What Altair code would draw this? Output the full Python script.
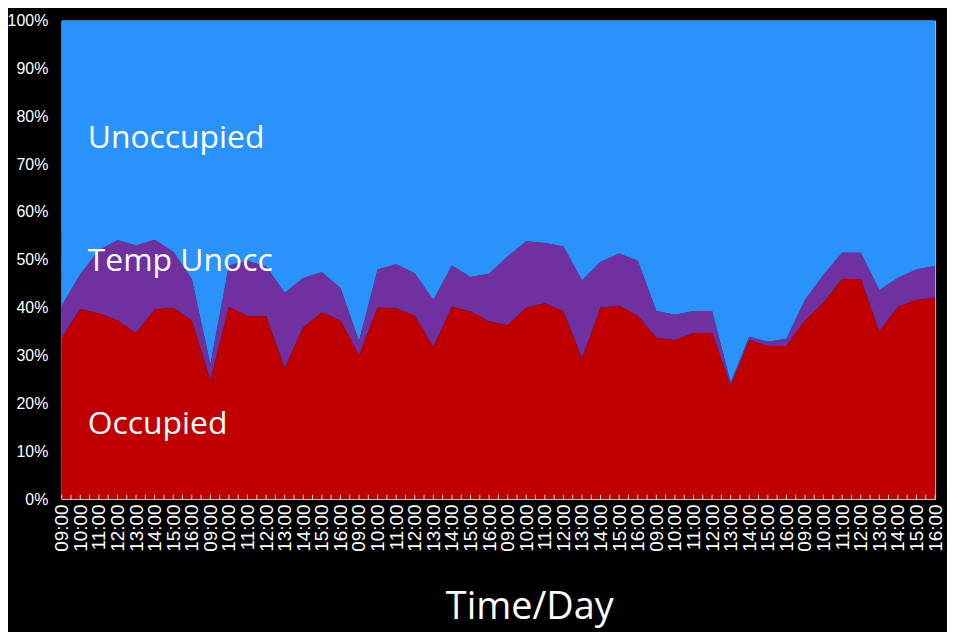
import altair as alt
import pandas as pd

# ---- data (percent of total) ----
day_hours = ["09:00", "10:00", "11:00", "12:00", "13:00", "14:00", "15:00", "16:00"]
tick_labels = day_hours * 6  # six days, 48 time points

occupied = [33.7, 39.7, 38.8, 37.3, 34.7, 39.6, 40.0, 37.3, 24.8, 40.2,
            38.2, 38.2, 27.4, 35.9, 39.0, 37.3, 30.0, 40.0, 39.8, 38.3,
            31.8, 40.2, 39.2, 37.1, 36.3, 40.0, 40.9, 39.2, 29.3, 40.0,
            40.4, 38.3, 33.7, 33.2, 34.7, 34.7, 23.6, 33.2, 32.0, 32.0,
            37.3, 41.1, 46.0, 46.0, 35.0, 40.2, 41.6, 42.1]

temp_unocc = [6.7, 7.3, 13.2, 16.8, 18.3, 14.6, 11.7, 8.7, 3.3, 8.6,
              11.6, 10.4, 15.7, 10.3, 8.4, 6.8, 3.0, 8.0, 9.3, 8.9,
              9.8, 8.6, 7.2, 10.0, 14.4, 13.9, 12.6, 13.6, 16.4, 9.6,
              10.9, 11.5, 5.6, 5.3, 4.6, 4.6, 0.7, 0.7, 0.9, 1.5,
              4.3, 5.8, 5.5, 5.5, 8.7, 6.0, 6.4, 6.6]

unoccupied = [59.6, 53.0, 48.0, 45.9, 47.0, 45.8, 48.3, 54.0, 71.9, 51.2,
              50.2, 51.4, 56.9, 53.8, 52.6, 55.9, 67.0, 52.0, 50.9, 52.8,
              58.4, 51.2, 53.6, 52.9, 49.3, 46.1, 46.5, 47.2, 54.3, 50.4,
              48.7, 50.2, 60.7, 61.5, 60.7, 60.7, 75.7, 66.1, 67.1, 66.5,
              58.4, 53.1, 48.5, 48.5, 56.3, 53.8, 52.0, 51.3]

series_names = ["Occupied", "Temp Unocc", "Unoccupied"]
series_colors = ["#C00000", "#7030A0", "#2A93FB"]

label_text = ["Unoccupied", "Temp Unocc", "Occupied"]
label_x = [1.4, 1.4, 1.4]
label_y = [73.4, 47.6, 13.6]

# ---- build tables ----
rows = []
for k, vals in enumerate([occupied, temp_unocc, unoccupied]):
    for i, v in enumerate(vals):
        rows.append({"idx": i, "value": v, "series": series_names[k], "ord": k})
df = pd.DataFrame(rows)

n = len(tick_labels)
df_ticks = pd.DataFrame({"t": [i / 2 for i in range(2 * (n - 1) + 1)]})
df_lab = pd.DataFrame({"x": label_x, "y": label_y, "text": label_text})

label_expr = "[" + ",".join("'" + s + "'" for s in tick_labels) + "][datum.value]"

x_scale = alt.Scale(domain=[0, n - 1], nice=False, zero=False)
y_scale = alt.Scale(domain=[0, 100], nice=False)

x_axis = alt.Axis(values=list(range(n)), labelExpr=label_expr,
                  labelAngle=-90, labelAlign="right", labelBaseline="middle",
                  labelPadding=5, labelFontSize=19, ticks=False, grid=False,
                  title="Time/Day", titleFont="Open Sans", titleFontSize=38,
                  titleFontWeight="normal", titleColor="white",
                  titleX=470, titleY=120, titleBaseline="alphabetic",
                  titleAlign="center", labelOverlap=False)
y_axis = alt.Axis(values=list(range(0, 101, 10)), labelExpr="datum.value + '%'",
                  ticks=False, grid=False, labelPadding=14, labelFontSize=16,
                  labelOverlap=False, title=None)

area = alt.Chart(df).mark_area(interpolate="linear", opacity=1).encode(
    x=alt.X("idx:Q", scale=x_scale, axis=x_axis),
    y=alt.Y("value:Q", stack=True, scale=y_scale, axis=y_axis),
    color=alt.Color("series:N", scale=alt.Scale(domain=series_names, range=series_colors),
                    legend=None),
    order=alt.Order("ord:Q"),
)

ticks = alt.Chart(df_ticks).mark_rule(color="#D9D9D9", strokeWidth=1).encode(
    x=alt.X("t:Q", scale=x_scale, axis=x_axis),
    y=alt.datum(0, axis=y_axis),
    y2=alt.datum(0.9),
)

labels = alt.Chart(df_lab).mark_text(
    align="left", baseline="alphabetic", font="Open Sans", fontSize=32, color="white"
).encode(
    x=alt.X("x:Q", scale=x_scale, axis=x_axis),
    y=alt.Y("y:Q", scale=y_scale, axis=y_axis),
    text="text:N",
)

chart = alt.layer(area, ticks, labels).properties(
    width=878,
    height=481,
    autosize=alt.AutoSizeParams(type="none"),
    padding={"left": 54, "top": 11, "right": 12, "bottom": 132},
    background="black",
).configure_axis(
    labelFont="Liberation Sans",
    labelColor="white",
    domainColor="#BFBFBF",
    domainWidth=1,
).configure_view(
    stroke="#BFBFBF",
    strokeWidth=1,
)

chart.save("out.html", embed_options={"renderer": "svg", "actions": False})
